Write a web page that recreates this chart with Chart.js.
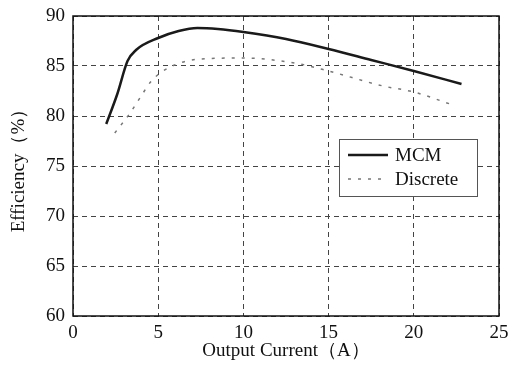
<!DOCTYPE html>
<html>
<head>
<meta charset="utf-8">
<script src="https://cdn.jsdelivr.net/npm/chart.js@4"></script>
<style>
  html, body { margin: 0; padding: 0; background: #fff; }
  #wrap { width: 514px; height: 374px; }
</style>
</head>
<body>
<div id="wrap"><canvas id="effChart" width="514" height="374"></canvas></div>
<script>
// Values
const mcmCurrent = [1.95, 2.6, 3.2, 3.7, 5.0, 6.2, 7.3, 8.5, 10.0, 12.5, 15.0, 17.5, 20.0, 22.8];
const mcmEff     = [79.2, 82.2, 85.5, 86.6, 87.8, 88.5, 88.8, 88.7, 88.4, 87.7, 86.7, 85.6, 84.5, 83.2];
const discCurrent = [2.45, 3.35, 4.0, 4.6, 5.7, 7.5, 10.0, 13.3, 15.0, 18.2, 20.0, 22.3];
const discEff     = [78.3, 80.3, 82.0, 83.5, 84.9, 85.7, 85.8, 85.2, 84.5, 83.0, 82.4, 81.1];
const seriesNames = ['MCM', 'Discrete'];
const xTicks = [0, 5, 10, 15, 20, 25];
const yTicks = [60, 65, 70, 75, 80, 85, 90];

const serif = "'Liberation Serif', 'Times New Roman', serif";

// frame around the whole plot area (top and right too)
const framePlugin = {
  id: 'frame',
  afterDraw(chart) {
    const a = chart.chartArea, c = chart.ctx;
    c.save();
    c.strokeStyle = '#111';
    c.lineWidth = 1.5;
    c.strokeRect(a.left, a.top, a.right - a.left, a.bottom - a.top);
    c.restore();
  }
};

// legend box inside the plot
const boxLegend = {
  id: 'boxLegend',
  afterDraw(chart) {
    const a = chart.chartArea, c = chart.ctx;
    const x = a.left + 266, y = a.top + 123, w = 138, h = 57;
    c.save();
    c.fillStyle = '#fff';
    c.fillRect(x, y, w, h);
    c.strokeStyle = '#555';
    c.lineWidth = 1;
    c.strokeRect(x + 0.5, y + 0.5, w, h);
    chart.data.datasets.forEach((ds, i) => {
      const ly = y + 16 + i * 24;
      c.beginPath();
      c.strokeStyle = ds.borderColor;
      c.lineWidth = ds.borderWidth;
      c.setLineDash(ds.borderDash || []);
      c.moveTo(x + 9, ly);
      c.lineTo(x + 49, ly);
      c.stroke();
      c.setLineDash([]);
      c.fillStyle = '#111';
      c.font = '19px ' + serif;
      c.textBaseline = 'middle';
      c.fillText(ds.label, x + 56, ly + 1);
    });
    c.restore();
  }
};

new Chart(document.getElementById('effChart').getContext('2d'), {
  type: 'line',
  data: {
    datasets: [
      {
        label: seriesNames[0],
        data: mcmCurrent.map((v, i) => ({ x: v, y: mcmEff[i] })),
        borderColor: '#1a1a1a',
        borderWidth: 2.5,
        pointRadius: 0,
        cubicInterpolationMode: 'monotone',
        fill: false
      },
      {
        label: seriesNames[1],
        data: discCurrent.map((v, i) => ({ x: v, y: discEff[i] })),
        borderColor: '#777',
        borderWidth: 1.5,
        borderDash: [3, 7],
        pointRadius: 0,
        cubicInterpolationMode: 'monotone',
        fill: false
      }
    ]
  },
  options: {
    responsive: false,
    animation: false,
    layout: { padding: { left: 0, right: 15, top: 16, bottom: 0 } },
    plugins: { legend: { display: false }, tooltip: { enabled: false } },
    scales: {
      x: {
        type: 'linear',
        min: 0, max: 25,
        afterBuildTicks: s => { s.ticks = xTicks.map(v => ({ value: v })); },
        afterFit: s => { s.height = 58; s.paddingLeft = 0; s.paddingRight = 0; },
        grid: { color: '#444', lineWidth: 1, tickLength: 0, drawTicks: false },
        border: { display: false, dash: [5, 4] },
        ticks: { color: '#111', font: { family: serif, size: 19 }, padding: 6 },
        title: {
          display: true,
          text: 'Output Current（A）',
          color: '#111',
          font: { family: serif, size: 19 },
          padding: { top: 2, bottom: 12 }
        }
      },
      y: {
        min: 60, max: 90,
        afterBuildTicks: s => { s.ticks = yTicks.map(v => ({ value: v })); },
        afterFit: s => { s.width = 73; s.paddingTop = 0; s.paddingBottom = 0; },
        grid: { color: '#444', lineWidth: 1, drawTicks: false },
        border: { display: false, dash: [5, 4] },
        ticks: { color: '#111', font: { family: serif, size: 19 }, padding: 8 },
        title: {
          display: true,
          text: 'Efficiency（%）',
          color: '#111',
          font: { family: serif, size: 19 },
          padding: { top: 8, bottom: 2 }
        }
      }
    }
  },
  plugins: [framePlugin, boxLegend]
});
</script>
</body>
</html>
